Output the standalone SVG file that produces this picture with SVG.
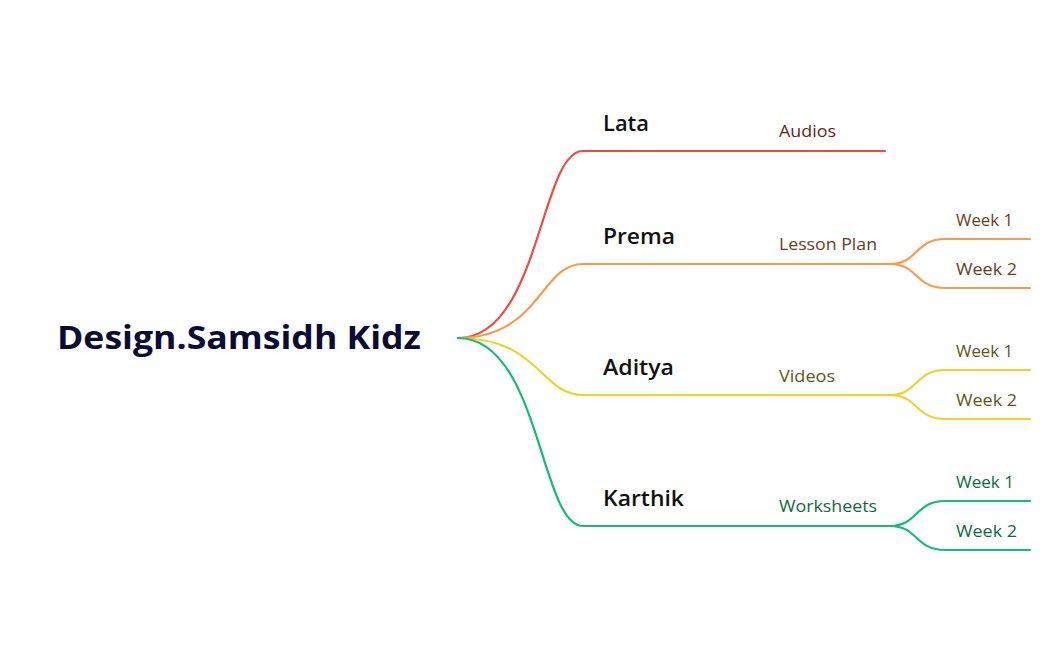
<svg xmlns="http://www.w3.org/2000/svg" width="1050" height="650" viewBox="0 0 1050 650">
<style>
.ln{fill:none;stroke-width:2.2;stroke-linecap:round}
.red{stroke:#F04A43}.org{stroke:#F59D4D}.yel{stroke:#F0D22A}.grn{stroke:#12BC7A}
.root{font-family:"Open Sans","Noto Sans","Liberation Sans",sans-serif;font-weight:700;font-size:33px;fill:#0B0B33}
.l1{font-family:"Open Sans","Noto Sans","Liberation Sans",sans-serif;font-weight:600;font-size:21px;fill:#111111}
.l2{font-family:"Open Sans","Noto Sans","Liberation Sans",sans-serif;font-weight:400;font-size:16.5px}
</style>
<rect width="1050" height="650" fill="#ffffff"/>
<g id="connectors">
<path class="ln red" d="M458,338 C540,338 540,151 583,151 H885"/>
<path class="ln org" d="M458,338 C540,338 540,264 583,264 H890"/>
<path class="ln org" d="M890,264 C918,264 915,239 945,239 H1030"/>
<path class="ln org" d="M890,264 C918,264 915,288 945,288 H1030"/>
<path class="ln yel" d="M458,338 C540,338 540,395 583,395 H890"/>
<path class="ln yel" d="M890,395 C918,395 915,370 945,370 H1030"/>
<path class="ln yel" d="M890,395 C918,395 915,419 945,419 H1030"/>
<path class="ln grn" d="M458,338 C540,338 540,526 583,526 H890"/>
<path class="ln grn" d="M890,526 C918,526 915,501 945,501 H1030"/>
<path class="ln grn" d="M890,526 C918,526 915,550 945,550 H1030"/>
</g>
<g id="root"><text class="root" x="57" y="349" textLength="364" lengthAdjust="spacingAndGlyphs">Design.Samsidh Kidz</text></g>
<g id="lata"><text class="l1" x="603" y="131" textLength="46" lengthAdjust="spacingAndGlyphs">Lata</text></g>
<g id="audios"><text class="l2" x="779" y="137" fill="#6E1D16" textLength="57" lengthAdjust="spacingAndGlyphs">Audios</text></g>
<g id="prema"><text class="l1" x="603" y="244" textLength="72" lengthAdjust="spacingAndGlyphs">Prema</text></g>
<g id="lessonplan"><text class="l2" x="779" y="250" fill="#6B3E1E" textLength="98" lengthAdjust="spacingAndGlyphs">Lesson Plan</text></g>
<g id="prema-week1"><text class="l2" x="956" y="226" fill="#6B3E1E" textLength="57" lengthAdjust="spacingAndGlyphs">Week 1</text></g>
<g id="prema-week2"><text class="l2" x="956" y="275" fill="#6B3E1E" textLength="61" lengthAdjust="spacingAndGlyphs">Week 2</text></g>
<g id="aditya"><text class="l1" x="603" y="375" textLength="71" lengthAdjust="spacingAndGlyphs">Aditya</text></g>
<g id="videos"><text class="l2" x="779" y="382" fill="#5F5616" textLength="56" lengthAdjust="spacingAndGlyphs">Videos</text></g>
<g id="aditya-week1"><text class="l2" x="956" y="357" fill="#5F5616" textLength="57" lengthAdjust="spacingAndGlyphs">Week 1</text></g>
<g id="aditya-week2"><text class="l2" x="956" y="406" fill="#5F5616" textLength="61" lengthAdjust="spacingAndGlyphs">Week 2</text></g>
<g id="karthik"><text class="l1" x="603" y="506" textLength="81" lengthAdjust="spacingAndGlyphs">Karthik</text></g>
<g id="worksheets"><text class="l2" x="779" y="512" fill="#0E6B43" textLength="98" lengthAdjust="spacingAndGlyphs">Worksheets</text></g>
<g id="karthik-week1"><text class="l2" x="956" y="488" fill="#0E6B43" textLength="58" lengthAdjust="spacingAndGlyphs">Week 1</text></g>
<g id="karthik-week2"><text class="l2" x="956" y="537" fill="#0E6B43" textLength="61" lengthAdjust="spacingAndGlyphs">Week 2</text></g>
</svg>
